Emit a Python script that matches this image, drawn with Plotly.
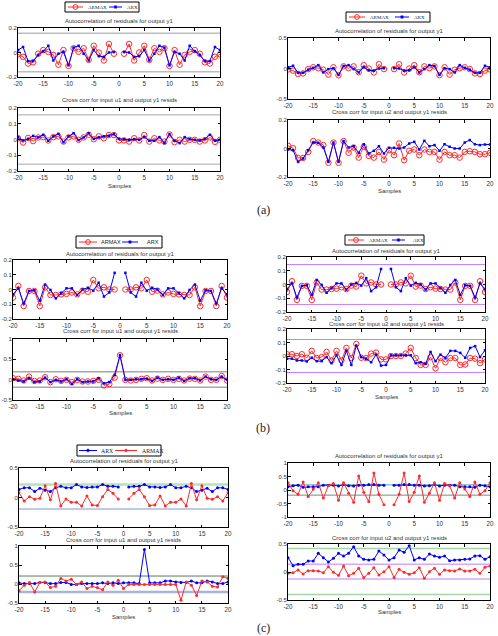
import plotly.graph_objects as go

W, H = 498, 636

lags = list(range(-20, 21))
xticks = [-20, -15, -10, -5, 0, 5, 10, 15, 20]

# ---------------- (a) ----------------
a_auto_armax = [-0.015, -0.035, -0.09, -0.08, -0.01, 0.02, 0.005, -0.02, -0.1, 0.02, -0.11, 0.035, 0.005, 0.035, -0.06, 0.055, 0, -0.065, 0.07, -0.01,
                None,
                -0.01, 0.07, -0.065, 0, 0.055, -0.06, 0.035, 0.005, 0.035, -0.11, 0.02, -0.1, -0.02, 0.005, 0.02, -0.01, -0.08, -0.09, -0.035, -0.015]
a_auto_arx = [0.02, 0.045, -0.07, -0.07, -0.02, 0.01, 0.055, -0.065, -0.01, 0.005, -0.105, 0.04, 0.055, -0.01, -0.065, 0.02, -0.03, -0.035, 0, 0.005,
              None,
              0.005, 0, -0.035, -0.03, 0.02, -0.065, -0.01, 0.055, 0.04, -0.105, 0.005, -0.01, -0.065, 0.055, 0.01, -0.02, -0.07, -0.07, 0.045, 0.02]
a_u1_arx = [0.015, -0.006, 0.004, 0.023, 0.013, 0.03, -0.008, 0.02, 0.036, -0.017, 0.02, 0.04, -0.004, 0.013, 0.04, 0.004, 0.013, 0.02, 0.023, 0.034,
            0.004, 0.002, -0.002, 0.002, -0.002, 0.015, -0.008, -0.008, 0.015, -0.023, 0.034, -0.008, -0.023, 0.015, 0.002, -0.002, -0.006, 0.004, 0.03, -0.008, -0.002]
a_u1_armax = [0.008, -0.019, 0.01, -0.01, 0.013, 0.015, -0.006, 0.015, 0.02, -0.013, 0.013, 0.02, -0.002, 0.013, 0.03, 0.002, 0.02, 0.008, 0.028, 0.028,
              -0.006, -0.006, -0.013, 0.008, -0.006, 0.028, -0.013, 0.008, -0.006, -0.013, 0.032, -0.017, -0.002, -0.013, -0.002, -0.002, -0.013, -0.006, 0.013, -0.015, -0.002]
a_u2_arx = [-0.007, -0.012, -0.094, -0.07, -0.012, 0.042, 0.04, 0.007, -0.094, 0.042, -0.094, 0.052, 0.007, 0.016, -0.03, 0.03, -0.035, -0.016, 0.016, -0.035,
            0.005, 0.005, 0, 0.007, 0.035, 0.047, -0.007, 0.054, 0.016, 0.024, -0.016, 0.03, 0.012, 0, 0, 0.042, 0.059, 0.03, 0.024, 0.028, 0.028]
a_u2_armax = [0.019, 0.002, -0.066, -0.066, -0.024, 0.052, 0.042, 0.024, -0.1, 0.042, -0.1, 0.052, -0.03, 0.007, -0.064, 0.012, -0.052, -0.064, -0.024, -0.078,
              -0.012, -0.047, 0.035, -0.082, -0.016, -0.007, -0.047, -0.007, -0.024, -0.024, -0.078, -0.024, -0.047, -0.047, -0.064, -0.024, -0.019, -0.024, -0.04, -0.04, -0.03]

# ---------------- (b) ----------------
b_auto_armax = [-0.055, 0.024, -0.112, -0.01, -0.01, -0.112, 0.015, -0.037, -0.037, -0.033, -0.03, -0.02, -0.033, -0.008, -0.015, 0.064, 0.008, 0.015, 0, 0,
                None,
                0, 0, 0.015, 0.008, 0.064, -0.015, -0.008, -0.033, -0.02, -0.03, -0.033, -0.037, -0.037, 0.015, -0.112, -0.01, -0.01, -0.112, 0.024, -0.055]
b_auto_arx = [-0.033, 0.008, -0.094, -0.01, -0.005, -0.075, 0.033, -0.003, -0.06, -0.025, 0.008, 0.008, -0.037, 0, 0.012, -0.008, 0.046, -0.048, -0.02, 0.113,
              None,
              0.113, -0.02, -0.048, 0.046, -0.008, 0.012, 0, -0.037, 0.008, 0.008, -0.025, -0.06, -0.003, 0.033, -0.075, -0.005, -0.01, -0.094, 0.008, -0.033]
b_u1_arx = [0.01, -0.02, -0.045, 0.035, -0.06, -0.045, 0.05, -0.06, -0.005, -0.045, 0.01, -0.105, 0.01, -0.06, -0.045, -0.045, 0.035, -0.09, -0.06, 0.12,
            0.6, -0.005, -0.005, 0.01, 0.01, 0.025, -0.03, 0.05, -0.005, 0.01, -0.005, 0.05, -0.03, 0.035, 0.035, -0.02, 0.075, 0.01, -0.005, 0.075, -0.005]
b_u1_armax = [0.035, 0.02, -0.02, 0.075, -0.03, -0.02, 0.06, -0.06, 0.01, -0.03, -0.005, -0.06, -0.005, -0.045, -0.045, -0.03, -0.005, -0.14, -0.11, 0.05,
              0.6, -0.005, -0.02, -0.005, 0.02, 0.035, -0.02, 0.025, -0.005, 0.02, -0.005, 0.02, -0.02, 0.025, 0.02, -0.02, 0.075, -0.005, -0.005, 0.09, -0.02]
b_u2_arx = [-0.02, -0.02, -0.033, -0.033, -0.04, -0.013, -0.038, -0.038, -0.008, -0.053, 0.005, -0.066, 0.038, -0.066, 0.076, -0.008, -0.02, -0.046, 0.01, -0.071,
            -0.066, 0.005, 0.005, 0.005, 0.005, 0.005, -0.053, -0.046, -0.058, 0.03, -0.038, 0.01, -0.013, 0.038, 0.038, 0.023, -0.013, 0.06, 0.073, -0.008, 0.043]
b_u2_armax = [0.013, 0.013, 0, 0.013, -0.013, 0.038, -0.015, -0.008, 0.03, -0.033, 0.038, -0.033, 0.06, -0.015, 0.089, -0.013, -0.015, 0.018, 0.025, -0.025,
              -0.025, 0, 0, 0, 0.018, 0.06, -0.015, -0.066, -0.066, -0.008, -0.091, -0.015, -0.046, -0.015, -0.015, -0.066, -0.063, -0.015, -0.02, -0.053, -0.025]

# ---------------- (c) ----------------
c1_auto_arx = [0.137, 0.165, 0.165, 0.1, 0.155, 0.125, 0.1, 0.165, 0.19, 0.165, 0.165, 0.22, 0.18, 0.17, 0.18, 0.18, 0.22, 0.19, 0.19, 0.18,
               None,
               0.18, 0.19, 0.19, 0.22, 0.18, 0.18, 0.17, 0.18, 0.22, 0.165, 0.165, 0.19, 0.165, 0.1, 0.125, 0.155, 0.1, 0.165, 0.165, 0.137]
c1_auto_armax = [0.08, -0.06, 0.014, -0.03, -0.014, 0.2, -0.04, 0.237, -0.142, -0.025, -0.08, -0.08, -0.142, 0.025, -0.125, -0.137, 0.014, 0.135, 0.07, -0.025,
                 None,
                 -0.025, 0.07, 0.135, 0.014, -0.137, -0.125, 0.025, -0.142, -0.08, -0.08, -0.025, -0.142, 0.237, -0.04, 0.2, -0.014, -0.03, 0.014, -0.06, 0.08]
c1_u1_arx = [0.03, 0.01, 0.01, 0.01, 0.04, 0.04, 0.01, 0.01, 0.04, 0.04, -0.01, -0.01, 0.01, 0.01, 0.01, 0.01, 0.03, 0.01, 0.03, 0.01,
             0.03, 0.03, 0.03, 0.01, 0.91, 0.03, 0.03, 0.03, 0.08, 0.08, 0.055, 0.04, 0.04, 0.08, 0.03, 0.03, 0.08, 0.055, 0.01, 0.01, 0.055]
c1_u1_armax = [-0.18, -0.03, 0.04, -0.21, 0.04, 0.055, -0.095, -0.06, 0.145, 0.08, 0.125, -0.01, 0.055, -0.12, -0.06, -0.095, -0.15, 0.055, -0.03, 0.1,
               -0.12, -0.01, -0.01, -0.01, -0.01, -0.01, -0.01, -0.01, -0.01, -0.01, -0.01, -0.43, 0.055, -0.03, -0.3, 0.08, 0.055, -0.06, -0.08, 0.19, 0.145]
c2_auto_arx = [0.12, 0.16, 0.18, 0.1, 0.12, 0.12, 0.12, 0.18, 0.18, 0.18, 0.15, 0.2, 0.16, 0.15, 0.18, 0.18, 0.2, 0.2, 0.18, 0.18,
               None,
               0.18, 0.18, 0.2, 0.2, 0.18, 0.18, 0.15, 0.16, 0.2, 0.15, 0.18, 0.18, 0.18, 0.12, 0.12, 0.12, 0.1, 0.18, 0.16, 0.12]
c2_auto_armax = [0.27, -0.03, -0.16, 0.3, -0.24, 0.04, 0.27, -0.3, 0.16, 0.24, -0.38, 0.27, -0.12, -0.45, 0.52, -0.085, -0.43, 0.63, -0.16, -0.55,
                 None,
                 -0.55, -0.16, 0.63, -0.43, -0.085, 0.52, -0.45, -0.12, 0.27, -0.38, 0.24, 0.16, -0.3, 0.27, 0.04, -0.24, 0.3, -0.16, -0.03, 0.27]
c2_u2_arx = [0.256, 0.113, 0.137, 0.137, 0.196, 0.196, 0.333, 0.256, 0.18, 0.244, 0.333, 0.286, 0.333, 0.452, 0.286, 0.226, 0.214, 0.226, 0.375, 0.304,
             0.214, 0.256, 0.393, 0.351, 0.47, 0.214, 0.256, 0.226, 0.321, 0.286, 0.262, 0.286, 0.202, 0.214, 0.214, 0.226, 0.232, 0.286, 0.292, 0.226, 0.274]
c2_u2_armax = [-0.024, -0.012, 0.036, -0.036, 0.024, 0.024, 0.018, -0.012, 0.095, -0.006, -0.06, 0.107, -0.065, -0.024, 0.065, -0.1, -0.024, 0.077, -0.054, 0.006,
               0.095, -0.1, 0.048, -0.006, -0.042, -0.012, 0.077, -0.113, 0.006, 0.065, -0.042, 0.036, 0.024, 0.018, 0.054, 0.018, 0.018, 0.048, -0.024, 0.083, 0.107]

# confidence bounds
bounds_a = [0.157, -0.157]
bounds_b1 = [0.195, -0.185]
bounds_b2 = [0.145, -0.145]
bounds_b3 = [0.122, -0.122]
bounds_c1 = [0.22, -0.195]
bounds_c2 = [0.21, -0.21]
bounds_c3 = [0.19, -0.19]
bounds_c4_outer = [0.42, -0.4]
bounds_c4_inner = [0.14, -0.125]

SANS = "Liberation Sans, Arial, sans-serif"
SERIF = "Liberation Serif, Times New Roman, serif"
XTICK_FONT = dict(family=SANS, size=6.3, color="#333333")
YTICK_FONT = dict(family=SANS, size=6, color="#333333")
TXT_FONT = dict(family=SANS, size=6, color="#333333")

RED = "#ff2a2a"
BLUE = "#0000ff"

TITLE_AUTO = "Autocorrelation of residuals for output y1"
TITLE_U1 = "Cross corr for input u1 and output y1 resids"
TITLE_U2 = "Cross corr for input u2 and output y1 resids"

def armax_ab(y):
    return dict(name="ARMAX", y=y, mode="lines+markers",
                line=dict(color=RED, width=1),
                marker=dict(symbol="circle-open", size=5.5, color=RED, line=dict(width=1)))

def arx_ab(y):
    return dict(name="ARX", y=y, mode="lines+markers",
                line=dict(color=BLUE, width=1),
                marker=dict(symbol="square", size=2.5, color=BLUE))

def armax_c(y):
    return dict(name="ARMAX", y=y, mode="lines+markers",
                line=dict(color=RED, width=1),
                marker=dict(symbol="circle", size=3, color=RED))

def arx_c(y):
    return dict(name="ARX", y=y, mode="lines+markers",
                line=dict(color=BLUE, width=1),
                marker=dict(symbol="circle", size=3, color=BLUE))

panels = [
    dict(frame=(18, 220, 28, 77), yr=(-0.2, 0.2), yt=[-0.2, 0, 0.2],
         series=[armax_ab(a_auto_armax), arx_ab(a_auto_arx)],
         bounds=[(b, "#bdbdbd", 1.5) for b in bounds_a],
         title=TITLE_AUTO, ty=21, sy=None),
    dict(frame=(18, 220, 108, 171), yr=(-0.2, 0.2), yt=[-0.2, -0.1, 0, 0.1, 0.2],
         series=[armax_ab(a_u1_armax), arx_ab(a_u1_arx)],
         bounds=[(b, "#c4c4c4", 1.5) for b in bounds_a],
         title=TITLE_U1, ty=100.5, sy=186),
    dict(frame=(288, 490, 38, 99), yr=(-0.5, 0.5), yt=[-0.5, 0, 0.5],
         series=[armax_ab(a_auto_armax), arx_ab(a_auto_arx)],
         bounds=[],
         title=TITLE_AUTO, ty=31, sy=None),
    dict(frame=(288, 490, 120, 177), yr=(-0.2, 0.2), yt=[-0.2, 0, 0.2],
         series=[armax_ab(a_u2_armax), arx_ab(a_u2_arx)],
         bounds=[],
         title=TITLE_U2, ty=111.5, sy=191),
    dict(frame=(13, 227, 260, 319), yr=(-0.2, 0.2), yt=[-0.2, -0.1, 0, 0.1, 0.2],
         series=[armax_ab(b_auto_armax), arx_ab(b_auto_arx)],
         bounds=[],
         title=TITLE_AUTO, ty=254, sy=None),
    dict(frame=(13, 227, 339, 400), yr=(-0.5, 1), yt=[-0.5, 0, 0.5, 1],
         series=[armax_ab(b_u1_armax), arx_ab(b_u1_arx)],
         bounds=[(b, "#a8a8a8", 1.5) for b in bounds_b1],
         title=TITLE_U1, ty=331, sy=413),
    dict(frame=(287, 485, 257, 312), yr=(-0.2, 0.2), yt=[-0.2, -0.1, 0, 0.1, 0.2],
         series=[armax_ab(b_auto_armax), arx_ab(b_auto_arx)],
         bounds=[(b, "#c080ff", 1) for b in bounds_b2],
         title=TITLE_AUTO, ty=250.5, sy=None),
    dict(frame=(287, 485, 329, 383), yr=(-0.2, 0.2), yt=[-0.2, -0.1, 0, 0.1, 0.2],
         series=[armax_ab(b_u2_armax), arx_ab(b_u2_arx)],
         bounds=[(b, "#c080ff", 1) for b in bounds_b3],
         title=TITLE_U2, ty=324, sy=397),
    dict(frame=(19, 228, 468, 527), yr=(-0.5, 0.5), yt=[-0.5, 0, 0.5],
         series=[arx_c(c1_auto_arx), armax_c(c1_auto_armax)],
         bounds=[(bounds_c1[0], "#b6e3b6", 2.5), (bounds_c1[1], "#7f98cc", 1)],
         title=TITLE_AUTO, ty=461, sy=None),
    dict(frame=(19, 228, 546, 603), yr=(-0.5, 1), yt=[-0.5, 0, 0.5, 1],
         series=[arx_c(c1_u1_arx), armax_c(c1_u1_armax)],
         bounds=[(bounds_c2[0], "#557a55", 1), (bounds_c2[1], "#aab2d8", 2.5)],
         title=TITLE_U1, ty=540, sy=617),
    dict(frame=(288, 490, 463, 517), yr=(-1, 1), yt=[-1, -0.5, 0, 0.5, 1],
         series=[arx_c(c2_auto_arx), armax_c(c2_auto_armax)],
         bounds=[(bounds_c3[0], "#5fa3a3", 1), (bounds_c3[1], "#6f8c8c", 1)],
         title=TITLE_AUTO, ty=456, sy=None),
    dict(frame=(288, 490, 544, 600), yr=(-0.5, 0.5), yt=[-0.5, 0, 0.5],
         series=[arx_c(c2_u2_arx), armax_c(c2_u2_armax)],
         bounds=[(b, "#a6d6a6", 1.5) for b in bounds_c4_outer] + [(b, "#d6a8f5", 1.5) for b in bounds_c4_inner],
         title=TITLE_U2, ty=537.5, sy=612),
]

def fmt(v):
    if float(v).is_integer():
        return str(int(v))
    return ("%g" % v)

def X(px):
    return px / W

def Y(py):
    return 1 - py / H

fig = go.Figure()
layout = dict(width=W, height=H, margin=dict(l=0, r=0, t=0, b=0, autoexpand=False),
              paper_bgcolor="white", plot_bgcolor="white", showlegend=False)
annotations = []
shapes = []

for i, p in enumerate(panels, start=1):
    sfx = "" if i == 1 else str(i)
    xa, ya = "x" + sfx, "y" + sfx
    x0, x1, y0, y1 = p["frame"]
    common = dict(ticks="inside", ticklen=2.5, tickwidth=0.8, tickcolor="black",
                  showline=True, linecolor="black", linewidth=1, mirror="ticks",
                  showgrid=False, zeroline=False, fixedrange=True, tickmode="array")
    layout["xaxis" + sfx] = dict(domain=[X(x0), X(x1)], anchor=ya, range=[-20, 20],
                                 tickvals=xticks, ticktext=[fmt(v) for v in xticks],
                                 tickfont=XTICK_FONT, **common)
    layout["yaxis" + sfx] = dict(domain=[Y(y1), Y(y0)], anchor=xa, range=list(p["yr"]),
                                 tickvals=p["yt"], ticktext=[fmt(v) for v in p["yt"]],
                                 tickfont=YTICK_FONT, ticklabelstandoff=-1, **common)
    for (bv, col, wd) in p["bounds"]:
        shapes.append(dict(type="line", xref=xa + " domain", yref=ya,
                           x0=0, x1=1, y0=bv, y1=bv, layer="below",
                           line=dict(color=col, width=wd)))
    for s in p["series"]:
        tr = dict(s)
        tr.update(x=lags, xaxis=xa, yaxis=ya, connectgaps=False, showlegend=False)
        fig.add_trace(go.Scatter(**tr))
    cx = X((x0 + x1) / 2)
    annotations.append(dict(text=p["title"], x=cx, y=Y(p["ty"]), xref="paper", yref="paper",
                            showarrow=False, xanchor="center", yanchor="middle", font=TXT_FONT))
    if p["sy"]:
        annotations.append(dict(text="Samples", x=cx, y=Y(p["sy"]), xref="paper", yref="paper",
                                showarrow=False, xanchor="center", yanchor="middle", font=TXT_FONT))

for lab, ly in [("(a)", 210), ("(b)", 428), ("(c)", 628)]:
    annotations.append(dict(text=lab, x=X(263), y=Y(ly), xref="paper", yref="paper",
                            showarrow=False, xanchor="center", yanchor="middle",
                            font=dict(family=SERIF, size=12, color="#222222")))

# ---- legend keys (decoration laid out in pixels inside each legend box) ----
# each entry: (label, key style, line x0, line x1, text x) relative to box left
legend_boxes = [
    dict(box=(65, 139, 2, 12), family=SERIF, size=5,
         items=[("ARMAX", "open", 3, 18, 21), ("ARX", "sq", 44, 57, 60)]),
    dict(box=(346, 430, 12, 22), family=SERIF, size=5,
         items=[("ARMAX", "open", 3, 19, 22), ("ARX", "sq", 49, 63, 66)]),
    dict(box=(76, 162, 236, 248), family=SANS, size=5.5,
         items=[("ARMAX", "open", 3, 21, 23), ("ARX", "sq", 46, 62, 69)]),
    dict(box=(345, 424, 235, 245), family=SERIF, size=5,
         items=[("ARMAX", "open", 3, 19, 22), ("ARX", "sq", 47, 60, 66)]),
    dict(box=(77, 161, 445, 456), family=SERIF, size=5.8,
         items=[("ARX", "dotb", 2, 20, 22), ("ARMAX", "dotr", 38, 60, 63)]),
]

for lg in legend_boxes:
    bx0, bx1, by0, by1 = lg["box"]
    cy = (by0 + by1) / 2
    shapes.append(dict(type="rect", xref="paper", yref="paper",
                       x0=X(bx0), x1=X(bx1), y0=Y(by1), y1=Y(by0),
                       line=dict(color="black", width=1), fillcolor="white", layer="above"))
    for (label, style, lx0, lx1, tx) in lg["items"]:
        col = RED if style in ("open", "dotr") else BLUE
        shapes.append(dict(type="line", xref="paper", yref="paper",
                           x0=X(bx0 + lx0), x1=X(bx0 + lx1), y0=Y(cy), y1=Y(cy),
                           line=dict(color=col, width=1), layer="above"))
        mx = bx0 + (lx0 + lx1) / 2
        if style == "open":
            r = 2.4
            shapes.append(dict(type="circle", xref="paper", yref="paper",
                               x0=X(mx - r), x1=X(mx + r), y0=Y(cy + r), y1=Y(cy - r),
                               line=dict(color=col, width=1), fillcolor="rgba(0,0,0,0)", layer="above"))
        elif style == "sq":
            r = 1.2
            shapes.append(dict(type="rect", xref="paper", yref="paper",
                               x0=X(mx - r), x1=X(mx + r), y0=Y(cy + r), y1=Y(cy - r),
                               line=dict(color=col, width=0.5), fillcolor=col, layer="above"))
        else:
            r = 1.4
            shapes.append(dict(type="circle", xref="paper", yref="paper",
                               x0=X(mx - r), x1=X(mx + r), y0=Y(cy + r), y1=Y(cy - r),
                               line=dict(color=col, width=0.5), fillcolor=col, layer="above"))
        annotations.append(dict(text=label, x=X(bx0 + tx), y=Y(cy), xref="paper", yref="paper",
                                showarrow=False, xanchor="left", yanchor="middle",
                                font=dict(family=lg["family"], size=lg["size"], color="#222222")))

layout["annotations"] = annotations
layout["shapes"] = shapes
fig.update_layout(**layout)

fig.write_html("out.html")
